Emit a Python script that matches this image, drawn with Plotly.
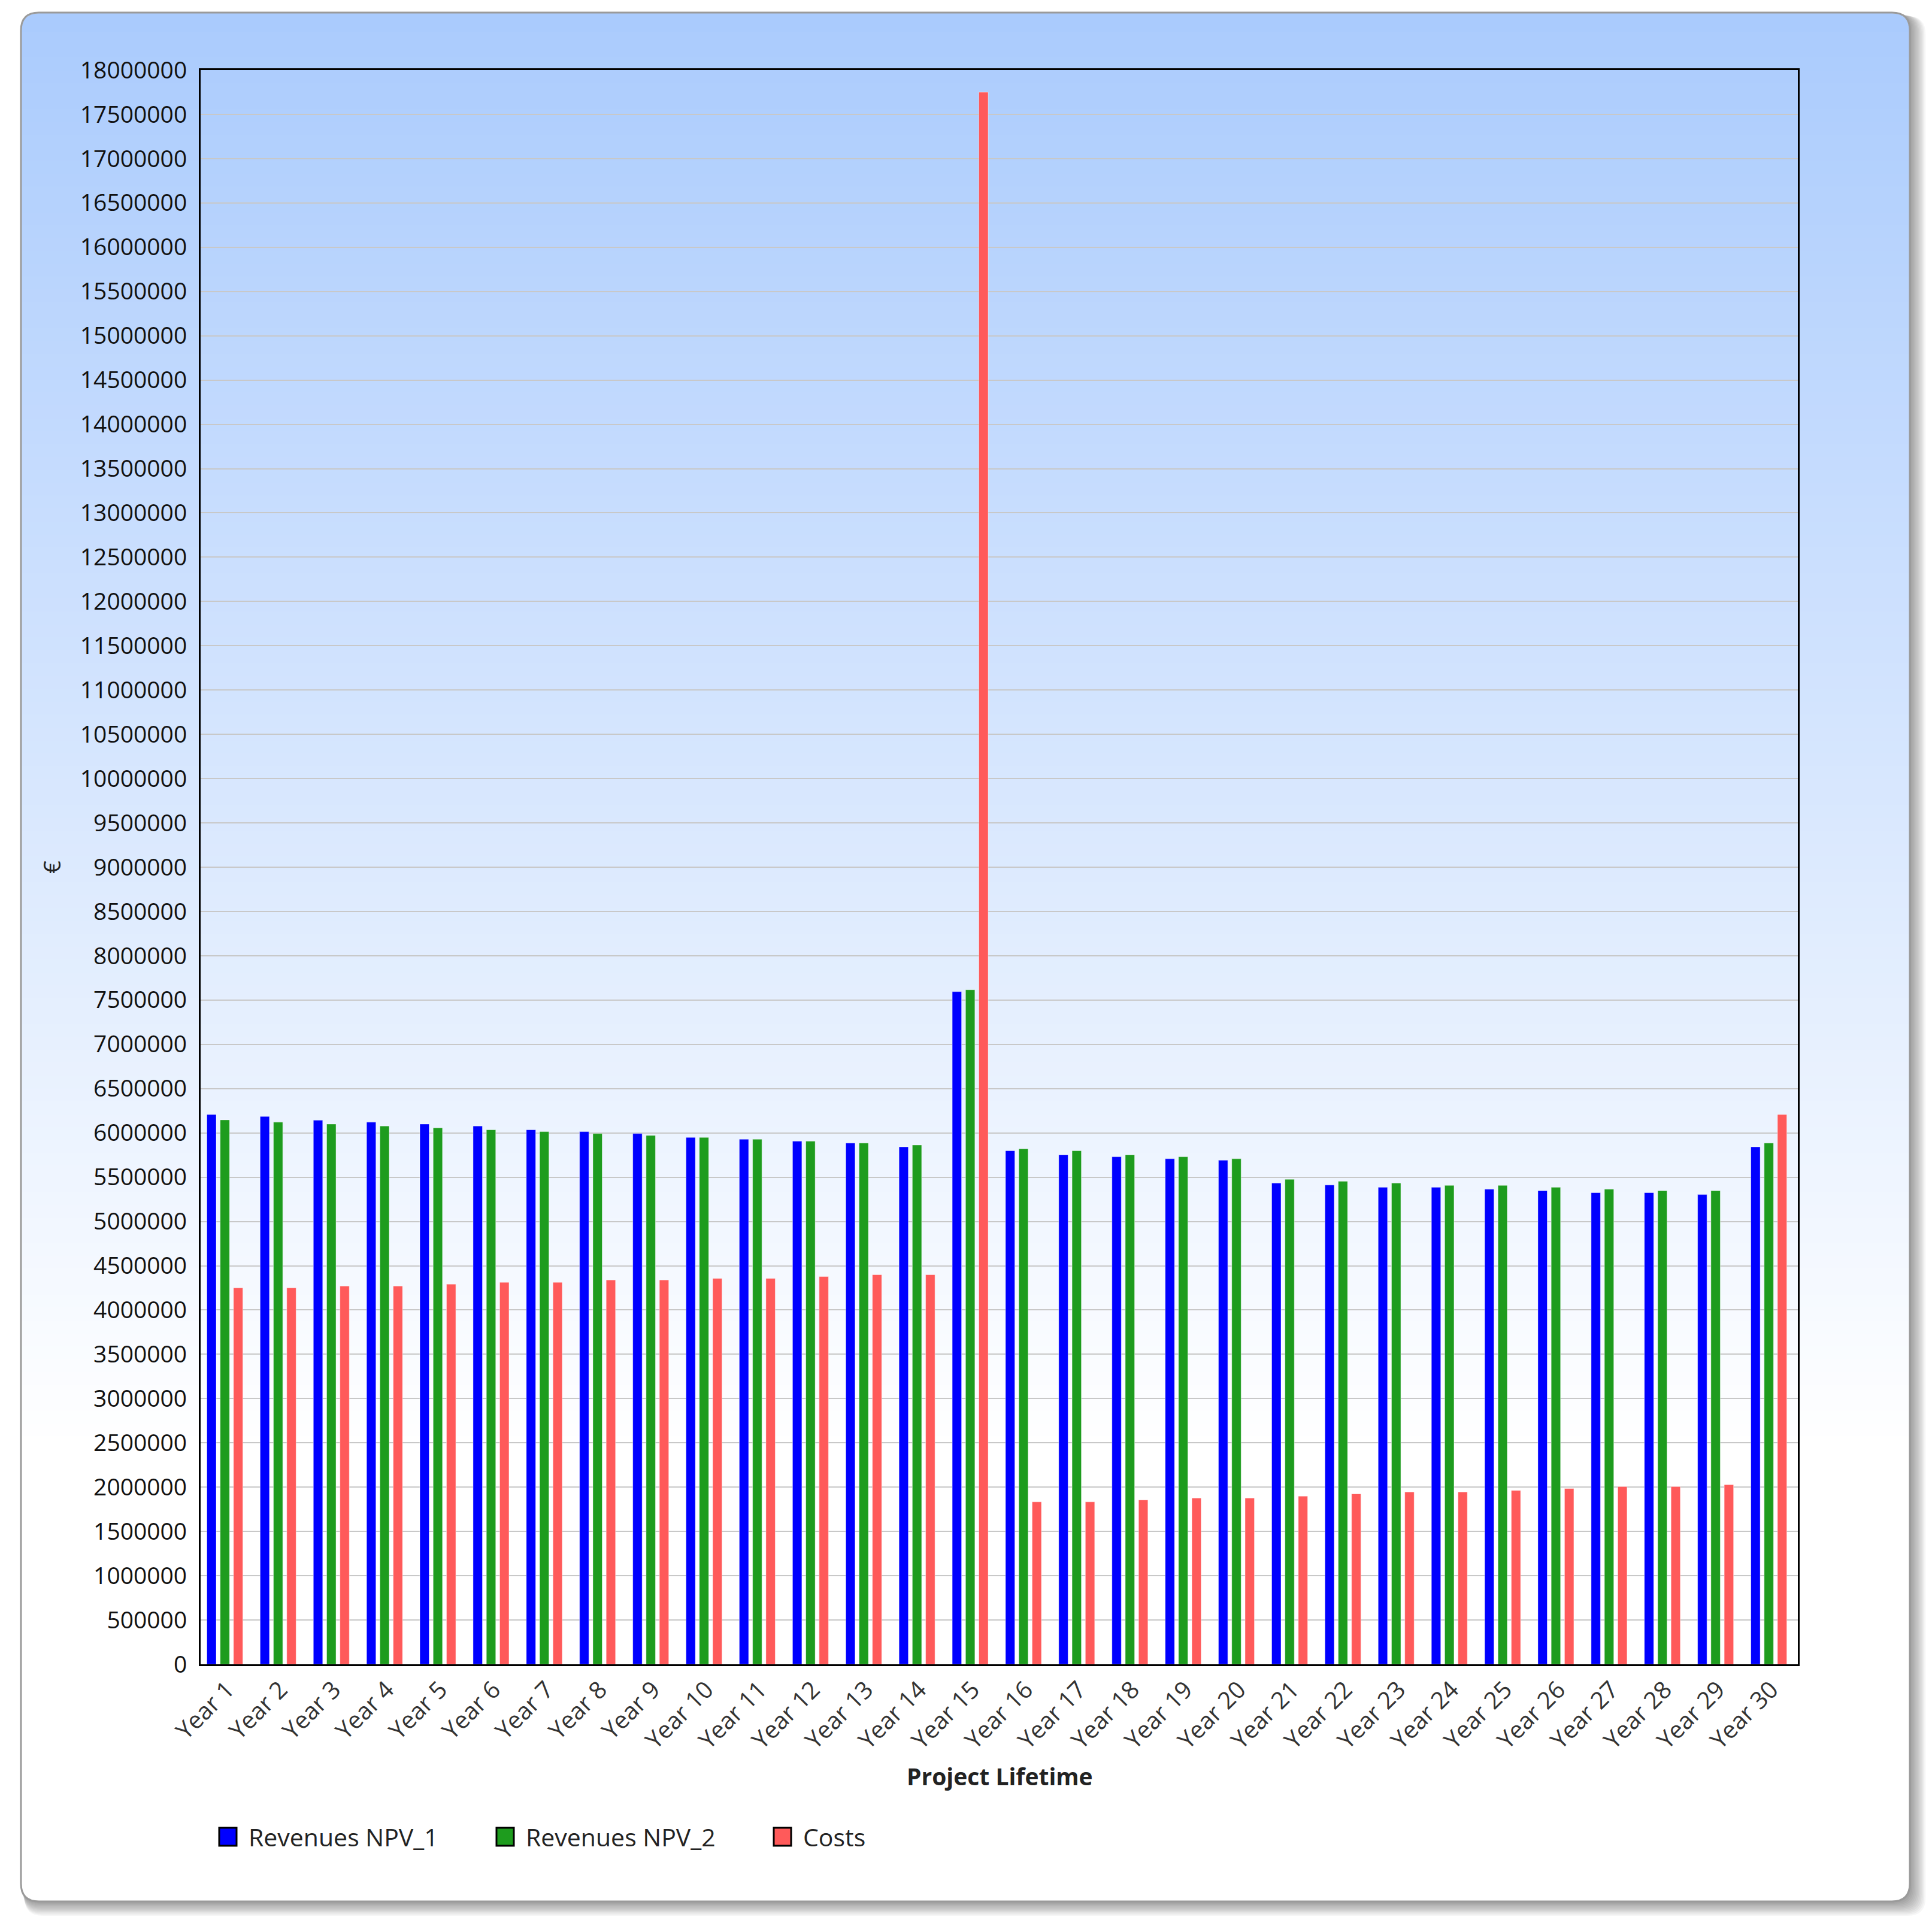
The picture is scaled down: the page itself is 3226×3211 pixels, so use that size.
import plotly.graph_objects as go

W, H = 3226, 3211

years = ["Year %d" % i for i in range(1, 31)]

revenues_npv_1 = [6207000, 6186000, 6143000, 6121000, 6100000, 6078000, 6035000, 6014000, 5992000, 5949000,
                  5928000, 5906000, 5885000, 5842000, 7595000, 5799000, 5751000, 5730000, 5708000, 5691000,
                  5433000, 5411000, 5385000, 5385000, 5364000, 5347000, 5325000, 5325000, 5304000, 5842000]
revenues_npv_2 = [6147000, 6121000, 6100000, 6078000, 6057000, 6035000, 6014000, 5992000, 5971000, 5949000,
                  5928000, 5906000, 5885000, 5863000, 7616000, 5820000, 5799000, 5751000, 5730000, 5708000,
                  5476000, 5454000, 5433000, 5407000, 5407000, 5385000, 5364000, 5347000, 5347000, 5885000]
costs = [4249000, 4249000, 4270000, 4270000, 4292000, 4313000, 4313000, 4339000, 4339000, 4356000,
         4356000, 4378000, 4399000, 4399000, 17750000, 1834000, 1834000, 1855000, 1877000, 1877000,
         1898000, 1924000, 1946000, 1946000, 1963000, 1985000, 2006000, 2006000, 2028000, 6207000]

series_names = ["Revenues NPV_1", "Revenues NPV_2", "Costs"]
series_colors = ["#0000FF", "#1E9C1E", "#FF5A5A"]

y_ticks = list(range(0, 18000001, 500000))

FONT = "Open Sans"


# pixel -> paper helpers (margins are 0, so paper == whole figure)
def px(x):
    return x / W


def py(y):
    return 1 - y / H


def rounded_rect(x0, y0, x1, y1, r):
    pts = [
        "M %f,%f" % (px(x0 + r), py(y0)),
        "L %f,%f" % (px(x1 - r), py(y0)),
        "Q %f,%f %f,%f" % (px(x1), py(y0), px(x1), py(y0 + r)),
        "L %f,%f" % (px(x1), py(y1 - r)),
        "Q %f,%f %f,%f" % (px(x1), py(y1), px(x1 - r), py(y1)),
        "L %f,%f" % (px(x0 + r), py(y1)),
        "Q %f,%f %f,%f" % (px(x0), py(y1), px(x0), py(y1 - r)),
        "L %f,%f" % (px(x0), py(y0 + r)),
        "Q %f,%f %f,%f" % (px(x0), py(y0), px(x0 + r), py(y0)),
        "Z",
    ]
    return " ".join(pts)


def mix(c0, c1, t):
    return "rgb(%d,%d,%d)" % tuple(round(a + (b - a) * t) for a, b in zip(c0, c1))


# bar slots inside one category (category width = 1), group sits slightly left of centre
bar_width = 0.175
bar_offsets = [-0.3825, -0.1325, 0.1175]

fig = go.Figure()
for name, vals, col, off in zip(series_names, [revenues_npv_1, revenues_npv_2, costs], series_colors, bar_offsets):
    fig.add_trace(go.Bar(
        x=years, y=vals, name=name,
        width=bar_width, offset=off,
        marker=dict(color=col, line=dict(color="rgba(255,255,255,0.45)", width=1)),
        showlegend=False,
    ))

# card background: shadow, white body, vertical gradient, border
card = (35, 21, 3189, 3175)
R = 30
shapes = []
for i in range(1, 13):
    shapes.append(dict(type="path", xref="paper", yref="paper", layer="below",
                       path=rounded_rect(card[0] + i * 0.5, card[1] + i * 0.5, card[2] + i * 2.2, card[3] + i * 2.0, R),
                       fillcolor="rgba(0,0,0,0.035)", line=dict(width=0)))
shapes.append(dict(type="path", xref="paper", yref="paper", layer="below",
                   path=rounded_rect(*card, R), fillcolor="white", line=dict(width=0)))

top_col = (170, 203, 253)
white = (255, 255, 255)
g_top, g_end = card[1], 2420
band_top = card[1] + R + 2
xl, xr = card[0] + 1, card[2] - 1
shapes.append(dict(type="path", xref="paper", yref="paper", layer="below",
                   path="M %f,%f L %f,%f Q %f,%f %f,%f L %f,%f Q %f,%f %f,%f L %f,%f Z" % (
                       px(xl), py(band_top + 1), px(xl), py(card[1] + R), px(xl), py(card[1] + 1),
                       px(xl + R), py(card[1] + 1), px(xr - R), py(card[1] + 1), px(xr), py(card[1] + 1),
                       px(xr), py(card[1] + R), px(xr), py(band_top + 1)),
                   fillcolor=mix(top_col, white, 0.005), line=dict(width=0)))
n_bands = 110
step = (g_end - band_top) / n_bands
for i in range(n_bands):
    y0 = band_top + i * step
    t = (y0 + step / 2 - g_top) / (g_end - g_top)
    shapes.append(dict(type="rect", xref="paper", yref="paper", layer="below",
                       x0=px(xl), x1=px(xr), y0=py(y0), y1=py(y0 + step + 1),
                       fillcolor=mix(top_col, white, t), line=dict(width=0)))
shapes.append(dict(type="path", xref="paper", yref="paper", layer="below",
                   path=rounded_rect(*card, R), fillcolor="rgba(0,0,0,0)",
                   line=dict(color="#9A9A9A", width=3)))

# legend drawn by hand so the swatches get the reference size
annotations = []
leg_x = [366, 829, 1292]
leg_y = 3067
for lx, name, col in zip(leg_x, series_names, series_colors):
    shapes.append(dict(type="rect", xref="paper", yref="paper", layer="above",
                       x0=px(lx), x1=px(lx + 29), y0=py(leg_y - 15), y1=py(leg_y + 15),
                       fillcolor=col, line=dict(color="black", width=3)))
    annotations.append(dict(x=px(lx + 47), y=py(leg_y), xref="paper", yref="paper",
                            text=name, showarrow=False, xanchor="left", yanchor="middle",
                            font=dict(family=FONT, size=41, color="#222222")))

annotations.append(dict(x=px(86), y=py(1448), xref="paper", yref="paper", text="€",
                        textangle=-90, showarrow=False, xanchor="center", yanchor="middle",
                        font=dict(family=FONT, size=38, color="#222222")))
annotations.append(dict(x=px(1669), y=py(2965), xref="paper", yref="paper", text="<b>Project Lifetime</b>",
                        showarrow=False, xanchor="center", yanchor="middle",
                        font=dict(family=FONT, size=39, color="#222222")))

fig.update_layout(
    width=W, height=H,
    margin=dict(l=0, r=0, t=0, b=0, autoexpand=False),
    paper_bgcolor="white",
    plot_bgcolor="rgba(0,0,0,0)",
    barmode="group",
    shapes=shapes,
    annotations=annotations,
    xaxis=dict(
        domain=[px(335), px(3002)],
        type="category",
        automargin=False,
        tickangle=-45,
        showline=True, linewidth=3, linecolor="black", mirror=True,
        showgrid=False, ticks="",
        tickfont=dict(family=FONT, size=40, color="#333333"),
    ),
    yaxis=dict(
        domain=[py(2779), py(117)],
        range=[0, 18000000],
        automargin=False,
        tickmode="array", tickvals=y_ticks, ticktext=[str(v) for v in y_ticks],
        ticklabelstandoff=12,
        showline=True, linewidth=3, linecolor="black", mirror=True,
        showgrid=True, gridcolor="#C8C8C8", gridwidth=2,
        zeroline=False, ticks="",
        tickfont=dict(family=FONT, size=39, color="#111111"),
    ),
)

fig.write_html("out.html", config={"displayModeBar": False},
               post_script="document.body.style.margin='0';")
